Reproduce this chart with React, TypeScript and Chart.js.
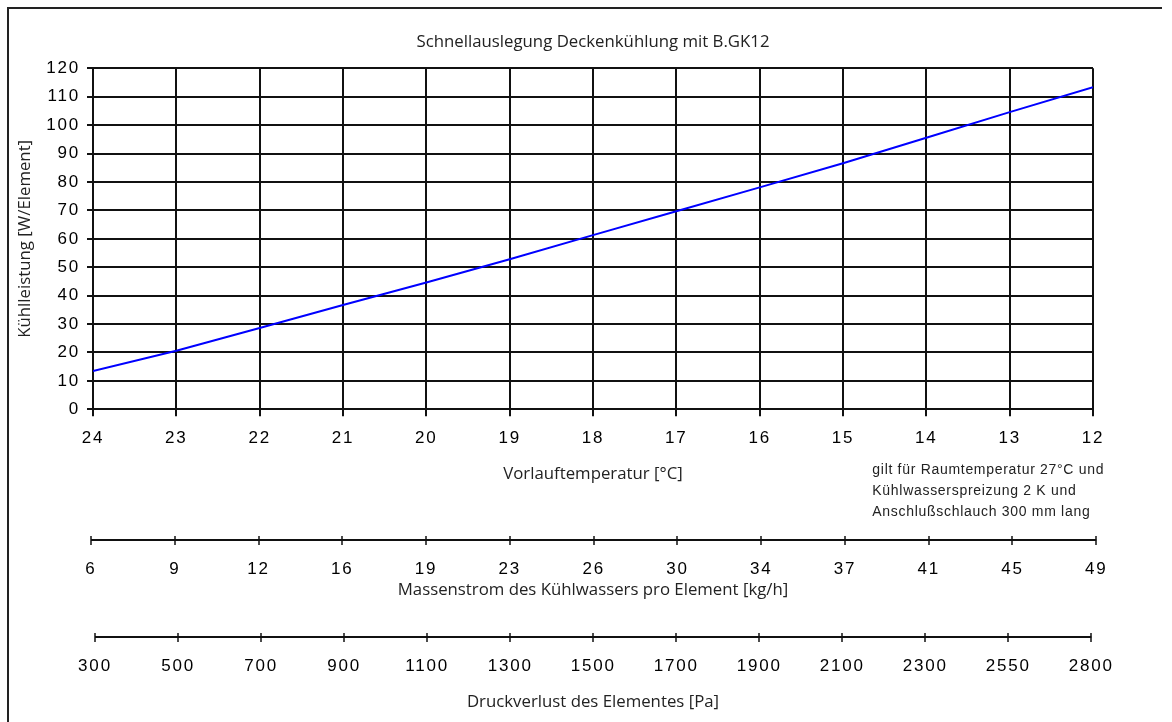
import React, { useEffect, useRef } from "react";
import { Chart, registerables } from "chart.js";

Chart.register(...registerables);

// ---- data ----
const temperatures = [24, 23, 22, 21, 20, 19, 18, 17, 16, 15, 14, 13, 12];
const coolingPower = [13.5, 20.6, 28.6, 36.7, 44.6, 52.8, 61.3, 69.7, 78.1, 86.6, 95.6, 104.6, 113.4];
const massFlowLabels = ["6", "9", "12", "16", "19", "23", "26", "30", "34", "37", "41", "45", "49"];
const pressureLabels = ["300", "500", "700", "900", "1100", "1300", "1500", "1700", "1900", "2100", "2300", "2550", "2800"];
const yMin = 0;
const yMax = 120;
const yStep = 10;
const chartTitle = "Schnellauslegung Deckenkühlung mit B.GK12";
const yTitle = "Kühlleistung [W/Element]";
const xTitle = "Vorlauftemperatur [°C]";
const massFlowTitle = "Massenstrom des Kühlwassers pro Element [kg/h]";
const pressureTitle = "Druckverlust des Elementes [Pa]";
const noteLines = [
  "gilt für Raumtemperatur 27°C und",
  "Kühlwasserspreizung 2 K und",
  "Anschlußschlauch 300 mm lang",
];

const W = 1172;
const H = 722;
const titleFont = { family: "'Open Sans', 'Noto Sans', sans-serif", size: 16.8, weight: "normal" as const };
const tickFont = { family: "'Liberation Sans', Arial, sans-serif", size: 17 };
const tickSpacing = "1.8px";
const lineColor = "#111";
const textColor = "#222";

const framePlugin = {
  id: "frame",
  beforeDraw(chart: any) {
    const ctx = chart.ctx;
    ctx.save();
    ctx.fillStyle = "#fff";
    ctx.fillRect(0, 0, chart.width, chart.height);
    ctx.strokeStyle = "#222";
    ctx.lineWidth = 2;
    ctx.beginPath();
    ctx.moveTo(8, H);
    ctx.lineTo(8, 8);
    ctx.lineTo(1162, 8);
    ctx.stroke();
    ctx.restore();
  },
};

// widen the digit labels like the reference rendering
const spacingPlugin = {
  id: "tickSpacing",
  afterLayout(chart: any) {
    Object.values(chart.scales).forEach((s: any) => {
      if (s._spacedLabels) return;
      const orig = s.drawLabels.bind(s);
      s.drawLabels = (area: any) => {
        const ctx = chart.ctx;
        ctx.save();
        (ctx as any).letterSpacing = tickSpacing;
        orig(area);
        ctx.restore();
      };
      s._spacedLabels = true;
    });
  },
};

const nomogramPlugin = {
  id: "nomogram",
  afterDraw(chart: any) {
    const ctx = chart.ctx;
    const axes: [string, number, number][] = [
      ["x2", 40, massFlowLabels.length],
      ["x3", 37, pressureLabels.length],
    ];
    ctx.save();
    ctx.strokeStyle = lineColor;
    for (const [id, off, n] of axes) {
      const s = chart.scales[id];
      const y = Math.round(s.top + off);
      const x0 = s.getPixelForValue(0);
      const x1 = s.getPixelForValue(n - 1);
      ctx.lineWidth = 2;
      ctx.beginPath();
      ctx.moveTo(x0, y);
      ctx.lineTo(x1, y);
      ctx.stroke();
      ctx.lineWidth = 1.5;
      for (let i = 0; i < n; i++) {
        const x = Math.round(s.getPixelForValue(i));
        ctx.beginPath();
        ctx.moveTo(x, y - 4);
        ctx.lineTo(x, y + 5);
        ctx.stroke();
      }
    }
    // note text
    ctx.fillStyle = textColor;
    ctx.font = "14px 'Liberation Sans', Arial, sans-serif";
    (ctx as any).letterSpacing = "0.7px";
    ctx.textAlign = "left";
    ctx.textBaseline = "alphabetic";
    const xs = chart.scales.x;
    const nx = xs.getPixelForValue(14.648);
    noteLines.forEach((t, i) => ctx.fillText(t, nx, 474 + i * 21));
    ctx.restore();
  },
};

export default function App() {
  const ref = useRef<HTMLCanvasElement | null>(null);
  useEffect(() => {
    if (!ref.current) return;
    const chart = new Chart(ref.current, {
      type: "line",
      data: {
        datasets: [
          {
            data: temperatures.map((t, i) => ({ x: t, y: coolingPower[i] })),
            borderColor: "#0000ff",
            borderWidth: 2,
            pointRadius: 0,
            tension: 0,
            fill: false,
          },
        ],
      },
      options: {
        animation: false,
        responsive: false,
        maintainAspectRatio: false,
        layout: { padding: { left: 0, right: 79, top: 0, bottom: 0 } },
        plugins: {
          legend: { display: false },
          tooltip: { enabled: false },
          title: {
            display: true,
            text: chartTitle,
            fullSize: false,
            color: textColor,
            font: titleFont,
            padding: { top: 32, bottom: 16.2 },
          },
        },
        scales: {
          x: {
            type: "linear",
            position: "bottom",
            weight: 0,
            min: 12,
            max: 24,
            reverse: true,
            afterBuildTicks: (s: any) => {
              s.ticks = temperatures.map((v) => ({ value: v }));
            },
            ticks: {
              font: tickFont,
              color: "#000",
              padding: 11.5,
              autoSkip: false,
              maxRotation: 0,
              callback: (v: any) => String(v),
            },
            grid: { color: lineColor, lineWidth: 2, tickLength: 7 },
            border: { color: lineColor, width: 2 },
            title: {
              display: true,
              text: xTitle,
              color: textColor,
              font: titleFont,
              padding: { top: 0, bottom: 15.6 },
            },
            afterFit: (s: any) => {
              s.height = 90.7;
            },
          },
          x2: {
            type: "linear",
            position: "bottom",
            weight: 1,
            min: 0.0239,
            max: 11.961,
            afterBuildTicks: (s: any) => {
              s.ticks = massFlowLabels.map((_, i) => ({ value: i }));
            },
            ticks: {
              font: tickFont,
              color: "#000",
              padding: 59,
              autoSkip: false,
              maxRotation: 0,
              callback: (v: any) => massFlowLabels[Math.round(v)],
            },
            grid: { display: false, drawTicks: false },
            border: { display: false },
            title: {
              display: true,
              text: massFlowTitle,
              color: textColor,
              font: titleFont,
              padding: { top: 0, bottom: 0 },
            },
            afterFit: (s: any) => {
              s.height = 100;
            },
          },
          x3: {
            type: "linear",
            position: "bottom",
            weight: 2,
            min: -0.0241,
            max: 12.02,
            afterBuildTicks: (s: any) => {
              s.ticks = pressureLabels.map((_, i) => ({ value: i }));
            },
            ticks: {
              font: tickFont,
              color: "#000",
              padding: 56.5,
              autoSkip: false,
              maxRotation: 0,
              callback: (v: any) => pressureLabels[Math.round(v)],
            },
            grid: { display: false, drawTicks: false },
            border: { display: false },
            title: {
              display: true,
              text: pressureTitle,
              color: textColor,
              font: titleFont,
              padding: { top: 0, bottom: 9.6 },
            },
            afterFit: (s: any) => {
              s.height = 122;
            },
          },
          y: {
            type: "linear",
            position: "left",
            min: yMin,
            max: yMax,
            ticks: {
              stepSize: yStep,
              font: tickFont,
              color: "#000",
              padding: 7,
            },
            grid: { color: lineColor, lineWidth: 2, tickLength: 6 },
            border: { color: lineColor, width: 2 },
            title: {
              display: true,
              text: yTitle,
              color: textColor,
              font: titleFont,
              padding: { top: 15, bottom: 0 },
            },
            afterFit: (s: any) => {
              s.width = 93;
            },
          },
        },
      } as any,
      plugins: [framePlugin, spacingPlugin, nomogramPlugin],
    });
    return () => chart.destroy();
  }, []);
  return (
    <div style={{ position: "absolute", left: 0, top: 0, width: W, height: H }}>
      <canvas ref={ref} width={W} height={H} style={{ display: "block", width: W, height: H }} />
    </div>
  );
}
